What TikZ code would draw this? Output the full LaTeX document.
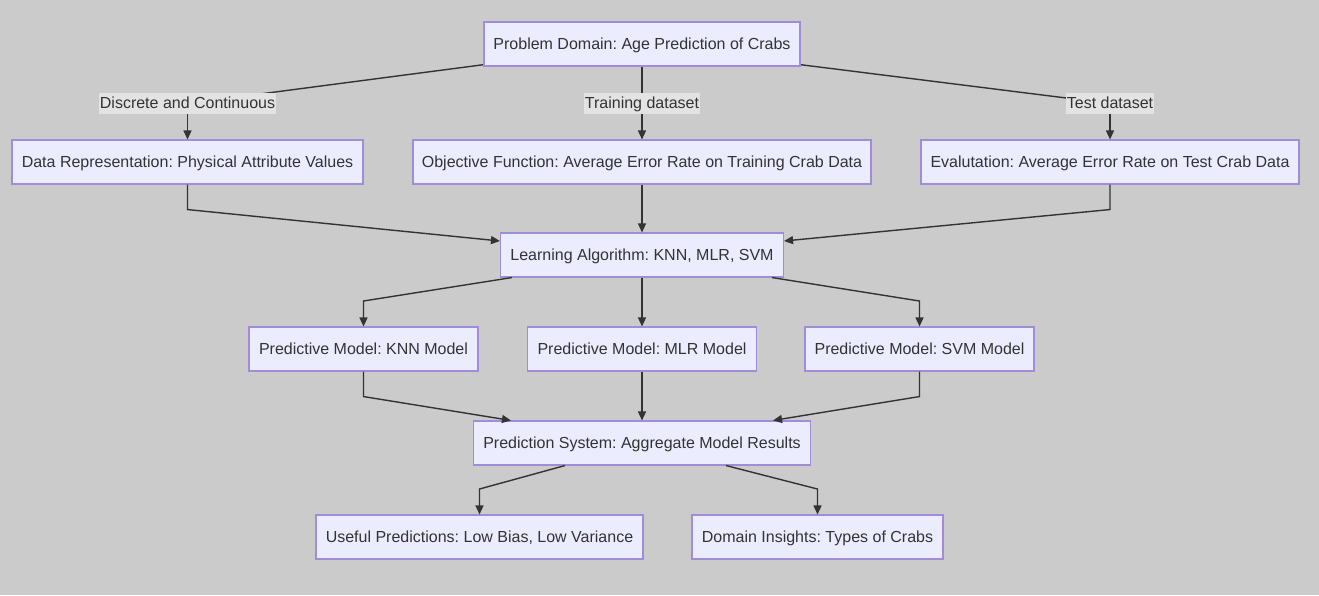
\documentclass[tikz,border=0pt]{standalone}
\usepackage{fontspec}
\setmainfont{Liberation Sans}
\usetikzlibrary{arrows.meta,backgrounds,calc}
\definecolor{bgc}{RGB}{203,203,203}
\definecolor{nfill}{RGB}{236,236,255}
\definecolor{nborder}{RGB}{160,140,215}
\definecolor{ink}{RGB}{51,51,51}
\definecolor{lblbg}{RGB}{227,227,227}
\tikzset{
  box/.style={draw=nborder, line width=1.1pt, fill=nfill, text=ink, minimum height=44pt, inner sep=0pt, text height=13.5pt, text depth=2.5pt, font=\fontsize{16}{19}\selectfont},
  lbl/.style={fill=lblbg, text=ink, inner xsep=1pt, inner ysep=2.5pt, text height=13pt, text depth=2.5pt, font=\fontsize{16}{19}\selectfont},
  edge/.style={draw=ink, line width=1.4pt, -{Triangle[length=9pt,width=8pt]}},
  plain/.style={draw=ink, line width=1.4pt}
}
\begin{document}
\frenchspacing
\begin{tikzpicture}[x=1pt,y=-1pt]
\useasboundingbox (0,0) rectangle (1319,595);
% nodes
\node[box, minimum width=316pt] (prob) at (642,44) {Problem Domain: Age Prediction of Crabs};
\node[box, minimum width=351pt] (dr) at (187.5,162) {Data Representation: Physical Attribute Values};
\node[box, minimum width=458pt] (obj) at (642,162) {Objective Function: Average Error Rate on Training Crab Data};
\node[box, minimum width=378pt] (ev) at (1110,162) {Evalutation: Average Error Rate on Test Crab Data};
\node[box, minimum width=283pt] (la) at (642,255) {Learning Algorithm: KNN, MLR, SVM};
\node[box, minimum width=229pt] (knn) at (363.5,349) {Predictive Model: KNN Model};
\node[box, minimum width=229pt] (mlr) at (642,349) {Predictive Model: MLR Model};
\node[box, minimum width=229pt] (svm) at (919.5,349) {Predictive Model: SVM Model};
\node[box, minimum width=337pt] (ps) at (642,443) {Prediction System: Aggregate Model Results};
\node[box, minimum width=327pt] (up) at (479.5,537) {Useful Predictions: Low Bias, Low Variance};
\node[box, minimum width=251pt] (di) at (817.5,537) {Domain Insights: Types of Crabs};
% edge labels
\node[lbl] (l1) at (187.5,103.5) {Discrete and Continuous};
\node[lbl] (l2) at (642,103.5) {Training dataset};
\node[lbl] (l3) at (1110,103.5) {Test dataset};
% edges
\begin{scope}[on background layer]
\fill[bgc] (0,0) rectangle (1319,595);
\draw[plain] ([xshift=1pt,yshift=2pt]prob.south west) -- (l1.center);
\draw[plain] ([xshift=-1pt,yshift=2pt]prob.south east) -- (l3.center);
\draw[plain] (prob.south) -- (l2.center);
\end{scope}
\draw[edge] (l1.south) -- (dr.north);
\draw[edge] (l2.south) -- (obj.north);
\draw[edge] (l3.south) -- (ev.north);
\draw[edge] (dr.south) -- ++(0,25) -- ([yshift=14pt]la.west);
\draw[edge] (ev.south) -- ++(0,25) -- ([yshift=14pt]la.east);
\draw[edge] (obj.south) -- (la.north);
\draw[edge] ([xshift=12pt]la.south west) -- (knn.north |- 0,301) -- (knn.north);
\draw[edge] (la.south) -- (mlr.north);
\draw[edge] ([xshift=-12pt]la.south east) -- (svm.north |- 0,301) -- (svm.north);
\draw[edge] (knn.south) -- ++(0,25) -- ([xshift=38pt]ps.north west);
\draw[edge] (mlr.south) -- (ps.north);
\draw[edge] (svm.south) -- ++(0,25) -- ([xshift=-38pt]ps.north east);
\draw[edge] ([xshift=92pt]ps.south west) -- (up.north |- 0,489) -- (up.north);
\draw[edge] ([xshift=-85pt]ps.south east) -- (di.north |- 0,489) -- (di.north);
\end{tikzpicture}
\end{document}
